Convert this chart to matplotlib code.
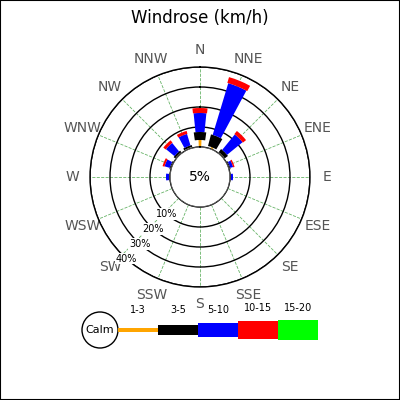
import numpy as np
import matplotlib.pyplot as plt

dirs = ['N','NNE','NE','ENE','E','ESE','SE','SSE','S','SSW','SW','WSW','W','WNW','NW','NNW']
# cumulative-free segment sizes (%) per direction
s1_3  = [3.5, 1.0, 0.5, 0.3, 0.2, 0, 0, 0, 0, 0, 0, 0, 0.2, 0.3, 0.5, 0.5]
s3_5  = [4.0, 6.0, 2.0, 0.5, 0.3, 0, 0, 0, 0, 0, 0, 0, 0.3, 0.5, 1.0, 1.0]
s5_10 = [9.5, 27.0, 10.0, 1.5, 1.0, 0, 0, 0, 0, 0, 0, 0, 1.5, 2.7, 5.5, 6.0]
s10_15= [2.5, 3.0, 2.0, 0.7, 0, 0, 0, 0, 0, 0, 0, 0, 0, 1.0, 1.5, 1.5]
s15_20= [0]*16
speed_labels = ['1-3','3-5','5-10','10-15','15-20']
colors = ['orange','black','blue','red','lime']
ring_labels = ['10%','20%','30%','40%']
calm = '5%'

fig = plt.figure(figsize=(4,4), dpi=100)
fig.patches.append(plt.Rectangle((0,0),1,1,transform=fig.transFigure,fill=False,ec='black',lw=1.5))
ax = fig.add_axes([0.225, 0.2825, 0.55, 0.55], projection='polar')
ax.set_theta_zero_location('N'); ax.set_theta_direction(-1)
theta = np.deg2rad(np.arange(16)*22.5)
widths = [0.08, 0.28, 0.2, 0.22, 0.22]
bottom = np.zeros(16)
for seg, c, w in zip([s1_3,s3_5,s5_10,s10_15,s15_20], colors, widths):
    seg = np.array(seg)
    ax.bar(theta, seg, width=w, bottom=bottom, color=c, edgecolor='none', zorder=3)
    bottom += seg
ax.set_rorigin(-15)
ax.set_ylim(0, 40)
ax.set_yticks([10,20,30,40]); ax.set_yticklabels([])
ax.set_xticks(theta); ax.set_xticklabels(dirs, color='#555555', fontsize=10)
ax.tick_params(axis='x', pad=2)
ax.xaxis.grid(True, color='green', ls='--', lw=0.6, alpha=0.6)
ax.yaxis.grid(True, color='black', lw=1)
ax.spines['polar'].set_linewidth(1)
ax.set_facecolor('white')
# calm circle
tt = np.linspace(0, 2*np.pi, 200)
ax.fill(tt, np.full(200, -15+1e-6)*0, color='white', zorder=4)
ax.plot(tt, np.zeros(200), color='black', lw=1, zorder=5)
ax.text(0, -15, calm, ha='center', va='center', fontsize=10, zorder=6)
for r, lab in zip([10,20,30,40], ring_labels):
    ax.text(np.deg2rad(222), r, lab, fontsize=7, ha='center', va='center',
            bbox=dict(fc='white', ec='none', pad=0.5), zorder=6)
fig.text(0.5, 0.955, 'Windrose (km/h)', ha='center', va='center', fontsize=12)

# legend
lg = fig.add_axes([0, 0, 1, 1], facecolor='none'); lg.set_xlim(0,400); lg.set_ylim(400,0); lg.axis('off')
lg.add_patch(plt.Circle((100,330), 18, fc='white', ec='black', lw=1))
lg.text(100,330,'Calm', ha='center', va='center', fontsize=8)
xs = [118,158,198,238,278]; hs = [4,10,14,18,20]
for x, h, c, lab in zip(xs, hs, colors, speed_labels):
    lg.add_patch(plt.Rectangle((x, 330-h/2), 40, h, fc=c, ec='none'))
    lg.text(x+20, 315 if h<18 else 313, lab, ha='center', va='bottom', fontsize=7)
fig.savefig('out.png', dpi=100)
